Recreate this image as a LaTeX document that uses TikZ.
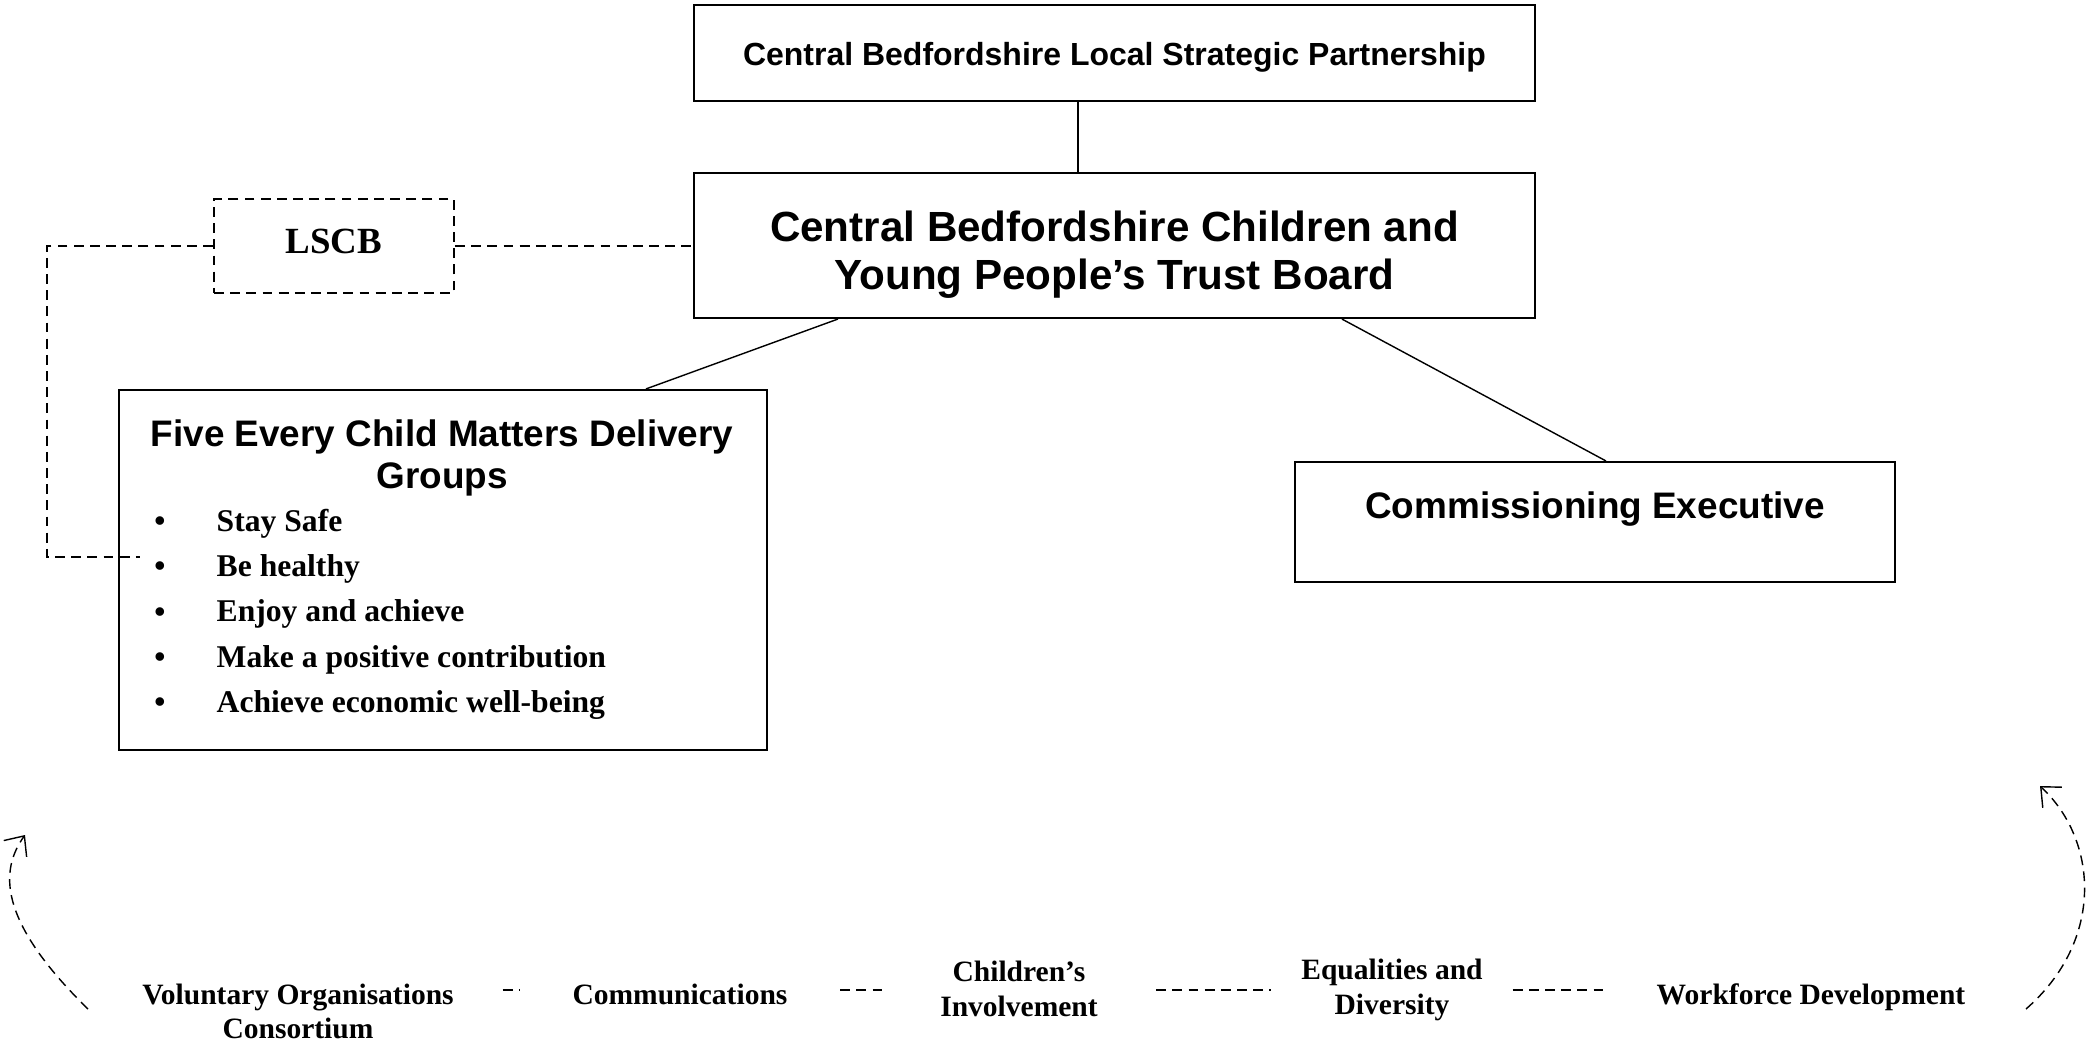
\documentclass[tikz,border=0pt]{standalone}
\usepackage{fontspec}
\setmainfont{Liberation Serif}
\setsansfont{Liberation Sans}
\usetikzlibrary{arrows.meta}

\begin{document}
\begin{tikzpicture}[
        box/.style={draw, line width=0.6pt, inner sep=0pt},
        dashbox/.style={draw, line width=0.6pt, dash pattern=on 2.8pt off 1.8pt, inner sep=0pt},
        dashline/.style={dash pattern=on 2.8pt off 1.8pt},
        item/.style={font=\fontsize{9}{10}\selectfont\bfseries, inner sep=0pt},
        strand/.style={font=\fontsize{8.4}{9.9}\selectfont\bfseries, align=center, inner sep=0pt, minimum height=0.9cm},
        loop/.style={dashline, -{Straight Barb[length=4.5pt, width=8pt]}}
    ]
        \useasboundingbox (0,0) rectangle (20.89,-10.48);

        % boards
        \node[box, minimum width=8.41cm, minimum height=0.96cm, text height=0.275cm, text depth=0.027cm, font=\sffamily\bfseries\fontsize{9.1}{11}\selectfont] (lsp) at (11.145,-0.53) {Central Bedfordshire Local Strategic Partnership};
        \node[box, minimum width=8.41cm, minimum height=1.45cm, text height=0.9cm, text depth=0.02cm, align=center, font=\sffamily\bfseries\fontsize{12}{13.7}\selectfont] (trust) at (11.145,-2.455) {Central Bedfordshire Children and\\Young People’s Trust Board};
        \node[dashbox, minimum width=2.40cm, minimum height=0.94cm, text depth=0.1cm, font=\fontsize{10.5}{12}\selectfont\bfseries] (lscb) at (3.34,-2.46) {LSCB};

        % delivery groups
        \node[box, minimum width=6.48cm, minimum height=3.60cm] (deliv) at (4.43,-5.70) {};
        \node[align=center, font=\sffamily\bfseries\fontsize{10.5}{11.7}\selectfont] (delivtitle) at (4.42,-4.58) {Five Every Child Matters Delivery\\Groups};
        \foreach \txt [count=\i] in {Stay Safe, Be healthy, Enjoy and achieve, Make a positive contribution, Achieve economic well-being} {
            \node[item] (dot\i) at (1.60,{-4.79-0.4525*\i}) {\textbullet};
            \node[item, anchor=base west] (goal\i) at (2.16,{-4.86-0.4525*\i}) {\txt};
        }

        \node[box, minimum width=6.00cm, minimum height=1.20cm] (comm) at (15.95,-5.22) {};
        \node[font=\sffamily\bfseries\fontsize{10.5}{12}\selectfont] (commtxt) at (15.95,-5.09) {Commissioning Executive};

        \draw ([xshift=-0.365cm]lsp.south) -- ([xshift=-0.365cm]trust.north);
        \draw ([xshift=1.45cm]trust.south west) -- ([xshift=5.28cm]deliv.north west);
        \draw ([xshift=6.49cm]trust.south west) -- ([xshift=3.12cm]comm.north west);

        \coordinate (bend) at (0.47,-5.57);
        \coordinate (tail) at (1.40,-5.57);
        \draw[dashline] (lscb.east) -- (trust.west |- lscb.east);
        \draw[dashline] (lscb.west) -| (bend) -- (tail);

        % cross-cutting strands
        \node[strand, minimum width=4.08cm] (vol) at (2.98,-10.115) {Voluntary Organisations\\Consortium};
        \node[strand, minimum width=3.19cm] (comms) at (6.80,-9.94) {Communications};
        \node[strand, minimum width=2.73cm] (child) at (10.19,-9.89) {Children’s\\Involvement};
        \node[strand, minimum width=2.40cm] (equal) at (13.92,-9.90) {Equalities and\\Diversity};
        \node[strand, minimum width=4.06cm] (work) at (18.11,-9.97) {Workforce Development};

        \coordinate (row) at (0,-9.90);
        \foreach \a/\b in {vol/comms, comms/child, child/equal, equal/work}
            \draw[dashline] (\a.east |- row) -- (\b.west |- row);

        \coordinate (lfoot) at (0.88,-10.09);
        \coordinate (ltip) at (0.25,-8.35);
        \coordinate (rfoot) at (20.26,-10.09);
        \coordinate (rtip) at (20.40,-7.86);
        \draw[loop] (lfoot) .. controls (-0.03,-9.2) and (0.0,-8.7) .. (ltip);
        \draw[loop] (rfoot) .. controls (21.05,-9.4) and (20.98,-8.4) .. (rtip);
\end{tikzpicture}
\end{document}
